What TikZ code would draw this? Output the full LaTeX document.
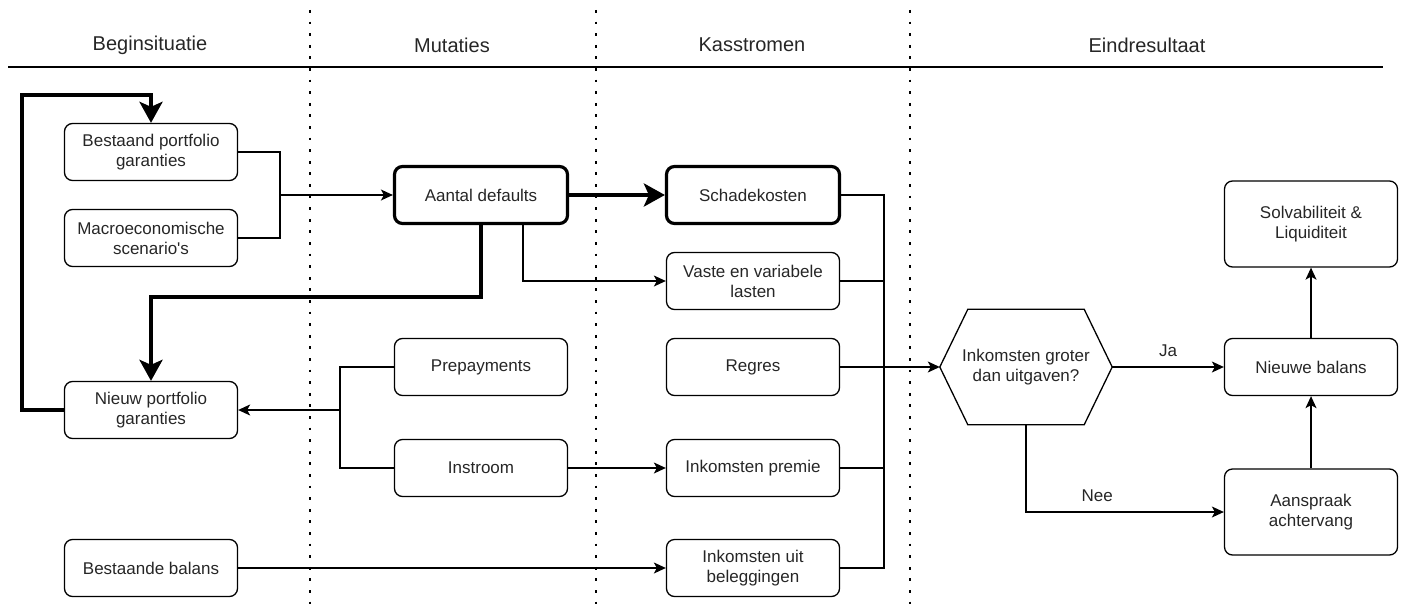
\documentclass[tikz,border=0pt]{standalone}
\usepackage{fontspec}
\setmainfont{Liberation Sans}
\usetikzlibrary{arrows.meta}

\tikzset{
  box/.style={draw, rounded corners=8pt, line width=1.3pt, minimum width=173pt,
    minimum height=57pt, align=center, text=black!85, font=\fontsize{17}{20}\selectfont},
  boldbox/.style={box, line width=3.2pt},
  head/.style={text=black!85, font=\fontsize{20}{24}\selectfont},
  lbl/.style={text=black!85, font=\fontsize{17}{20}\selectfont},
  line/.style={line width=1.3pt},
  arrow/.style={line, -{Stealth[length=12pt,width=11pt,inset=3pt]}},
  fatarrow/.style={line width=4pt, -{Stealth[length=21pt,width=23pt,inset=5pt]}},
  lane/.style={line width=2.8pt, dash pattern=on 2.8pt off 8.8pt}
}

\begin{document}
\begin{tikzpicture}[x=1pt, y=-1pt]
  \useasboundingbox (0,0) rectangle (1407,610);

  \node[head] (h1) at (150,45) {Beginsituatie};
  \node[head] (h2) at (452,45) {Mutaties};
  \node[head] (h3) at (752,45) {Kasstromen};
  \node[head] (h4) at (1147,45) {Eindresultaat};
  \draw[line width=1.5pt] (8,67) -- (1383,67);
  \draw[lane] (310,10) -- (310,610);
  \draw[lane] (596,10) -- (596,610);
  \draw[lane] (910,10) -- (910,610);

  \node[box] (bestaand) at (151,152) {Bestaand portfolio\\garanties};
  \node[box] (macro) at (151,238) {Macroeconomische\\scenario\textquotesingle s};
  \node[box] (nieuw) at (151,410) {Nieuw portfolio\\garanties};
  \node[box] (balans) at (151,568) {Bestaande balans};

  \node[boldbox] (aantal) at (481,195) {Aantal defaults};
  \node[box] (prepay) at (481,367) {Prepayments};
  \node[box] (instroom) at (481,468) {Instroom};

  \node[boldbox] (schade) at (753,195) {Schadekosten};
  \node[box] (vaste) at (753,281) {Vaste en variabele\\lasten};
  \node[box] (regres) at (753,367) {Regres};
  \node[box] (premie) at (753,468) {Inkomsten premie};
  \node[box] (beleg) at (753,568) {Inkomsten uit\\beleggingen};

  \node[lbl, minimum width=172pt, minimum height=115pt, align=center] (hex) at (1026,367) {Inkomsten groter\\dan uitgaven?};
  \draw[line] (hex.west) -- ([xshift=28]hex.north west) -- ([xshift=-28]hex.north east)
    -- (hex.east) -- ([xshift=-28]hex.south east) -- ([xshift=28]hex.south west) -- cycle;

  \node[box, minimum height=86pt] (solv) at (1311,224) {Solvabiliteit \&\\Liquiditeit};
  \node[box] (nieuwe) at (1311,367) {Nieuwe balans};
  \node[box, minimum height=86pt] (aanspraak) at (1311,512) {Aanspraak\\achtervang};

  \coordinate (j1) at (280,195);
  \coordinate (j2) at (340,410);
  \coordinate (top) at (22,95);

  \draw[line] (bestaand.east) -| (j1) |- (macro.east);
  \draw[arrow] (j1) -- (aantal.west);
  \draw[fatarrow] (aantal.east) -- (schade.west);
  \draw[arrow] ([xshift=42]aantal.south) |- (vaste.west);
  \draw[fatarrow] (aantal.south) -- ++(0,72) -| (nieuw.north);
  \draw[fatarrow] (nieuw.west) -| (top) -| (bestaand.north);

  \draw[line] (prepay.west) -| (j2) |- (instroom.west);
  \draw[arrow] (j2) -- (nieuw.east);
  \draw[arrow] (instroom.east) -- (premie.west);
  \draw[arrow] (balans.east) -- (beleg.west);

  \draw[line] (schade.east) -- ++(43,0) |- (beleg.east);
  \draw[line] (vaste.east) -- ++(43,0);
  \draw[line] (premie.east) -- ++(43,0);
  \draw[arrow] (regres.east) -- (hex.west);

  \draw[arrow] (hex.east) -- node[lbl, above=6pt] {Ja} (nieuwe.west);
  \draw[arrow] (hex.south) |- node[lbl, pos=0.68, above=6pt] {Nee} (aanspraak.west);
  \draw[arrow] (aanspraak.north) -- (nieuwe.south);
  \draw[arrow] (nieuwe.north) -- (solv.south);
\end{tikzpicture}
\end{document}
